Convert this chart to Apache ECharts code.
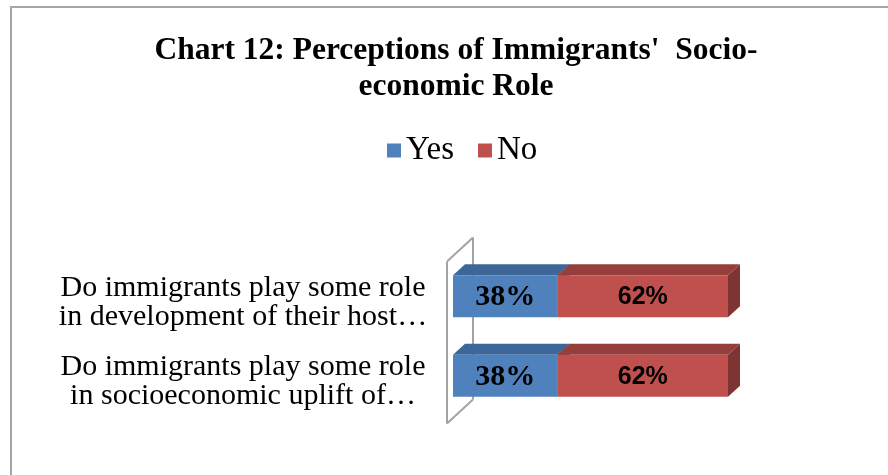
<!DOCTYPE html>
<html>
<head>
<meta charset="utf-8">
<script src="https://cdn.jsdelivr.net/npm/echarts@6/dist/echarts.min.js"></script>
<style>
  html, body { margin: 0; padding: 0; background: #fff; }
  #chart { width: 888px; height: 475px; }
</style>
</head>
<body>
<div id="chart"></div>
<script>
// Survey questions (top to bottom) and answer shares in percent
const categories = [
  'Do immigrants play some role\nin development of their host…',
  'Do immigrants play some role\nin socioeconomic uplift of…'
];
const yesValues = [38, 38];
const noValues = [62, 62];
const seriesNames = ['Yes', 'No'];

const chart = echarts.init(document.getElementById('chart'));

// 3D face colours for each series: front, top, side
const palette = {
  Yes: { front: '#4F81BD', top: '#3D6798', side: '#2F5077' },
  No:  { front: '#C0504D', top: '#963E3C', side: '#7E3432' }
};
const DEPTH_X = 12, DEPTH_Y = -11;

// rows: [categoryIndex, start, end, value]
function buildRows(values, offsets) {
  return values.map((v, i) => [i, offsets ? offsets[i] : 0, (offsets ? offsets[i] : 0) + v, v]);
}
const yesRows = buildRows(yesValues, null);
const noRows = buildRows(noValues, yesValues);

function barRenderer(colors, labelFont) {
  return function (params, api) {
    const cat = api.value(0);
    const p0 = api.coord([api.value(1), cat]);
    const p1 = api.coord([api.value(2), cat]);
    const h = api.size([0, 1])[1] * 0.53;
    const top = p0[1] - h / 2, bot = p0[1] + h / 2;
    const xl = p0[0], xr = p1[0];
    return {
      type: 'group',
      children: [
        { type: 'polygon', shape: { points: [[xr, top], [xr + DEPTH_X, top + DEPTH_Y], [xr + DEPTH_X, bot + DEPTH_Y], [xr, bot]] },
          style: { fill: colors.side } },
        { type: 'polygon', shape: { points: [[xl, top], [xl + DEPTH_X, top + DEPTH_Y], [xr + DEPTH_X, top + DEPTH_Y], [xr, top]] },
          style: { fill: colors.top } },
        { type: 'rect', shape: { x: xl, y: top, width: xr - xl, height: h },
          style: { fill: colors.front } },
        { type: 'text', x: (xl + xr) / 2, y: p0[1] + 1,
          style: { text: api.value(3) + '%', align: 'center', verticalAlign: 'middle',
                   fill: '#000', fontSize: labelFont.size, fontFamily: labelFont.family, fontWeight: 'bold' } }
      ]
    };
  };
}

// Side wall of the 3D plot, placed relative to the category bands
function wallRenderer(params, api) {
  const c0 = api.coord([0, 0]);
  const c1 = api.coord([0, categories.length - 1]);
  const band = api.size([0, 1])[1];
  const fx = c0[0] - 6;
  const fTop = c0[1] - band / 2 + 5;
  const fBot = c1[1] + band / 2 + 8;
  const ox = 26, oy = -24;
  const st = { stroke: '#A3A3A3', lineWidth: 2, fill: null };
  return {
    type: 'group',
    children: [
      { type: 'line', shape: { x1: fx, y1: fTop, x2: fx, y2: fBot }, style: st },
      { type: 'line', shape: { x1: fx + ox, y1: fTop + oy, x2: fx + ox, y2: fBot + oy }, style: st },
      { type: 'line', shape: { x1: fx, y1: fTop, x2: fx + ox, y2: fTop + oy }, style: st },
      { type: 'line', shape: { x1: fx, y1: fBot, x2: fx + ox, y2: fBot + oy }, style: st }
    ]
  };
}

const option = {
  animation: false,
  backgroundColor: '#fff',
  title: {
    text: 'Chart 12: Perceptions of Immigrants\'  Socio-\neconomic Role',
    left: 451,
    textAlign: 'center',
    top: 28,
    textStyle: { fontFamily: 'Liberation Serif', fontWeight: 'bold', fontSize: 31.5, lineHeight: 36, color: '#000' }
  },
  legend: {
    data: seriesNames,
    left: 382,
    top: 129,
    icon: 'rect',
    itemWidth: 14,
    itemHeight: 14,
    itemGap: 24,
    textStyle: { fontFamily: 'Liberation Serif', fontSize: 33, color: '#000' }
  },
  graphic: [
    { type: 'rect', shape: { x: 11, y: 7, width: 1000, height: 1000 },
      style: { fill: null, stroke: '#A6A6A6', lineWidth: 2 }, silent: true, z: -10 }
  ],
  grid: { left: 453, right: 160, top: 256.5, bottom: 59.5 },
  xAxis: { type: 'value', min: 0, max: 100, show: false },
  yAxis: {
    type: 'category',
    data: categories,
    inverse: true,
    axisLine: { show: false },
    axisTick: { show: false },
    splitLine: { show: false },
    axisLabel: {
      align: 'center',
      margin: 210,
      // a short leading spacer line pushes the two text lines slightly below the band centre
      formatter: (v) => '{s| }\n' + v.split('\n').map((l) => '{t|' + l + '}').join('\n'),
      rich: {
        s: { fontSize: 6, lineHeight: 12 },
        t: { fontFamily: 'Liberation Serif', fontSize: 30, lineHeight: 29, color: '#000' }
      }
    }
  },
  series: [
    { type: 'custom', name: 'wall', renderItem: wallRenderer, data: [[0]], silent: true, z: 1 },
    { type: 'custom', name: 'Yes', itemStyle: { color: palette.Yes.front },
      renderItem: barRenderer(palette.Yes, { size: 30, family: 'Liberation Serif' }),
      encode: { x: [1, 2], y: 0 }, data: yesRows, z: 2 },
    { type: 'custom', name: 'No', itemStyle: { color: palette.No.front },
      renderItem: barRenderer(palette.No, { size: 25, family: 'Liberation Sans' }),
      encode: { x: [1, 2], y: 0 }, data: noRows, z: 3 }
  ]
};
chart.setOption(option);
</script>
</body>
</html>
